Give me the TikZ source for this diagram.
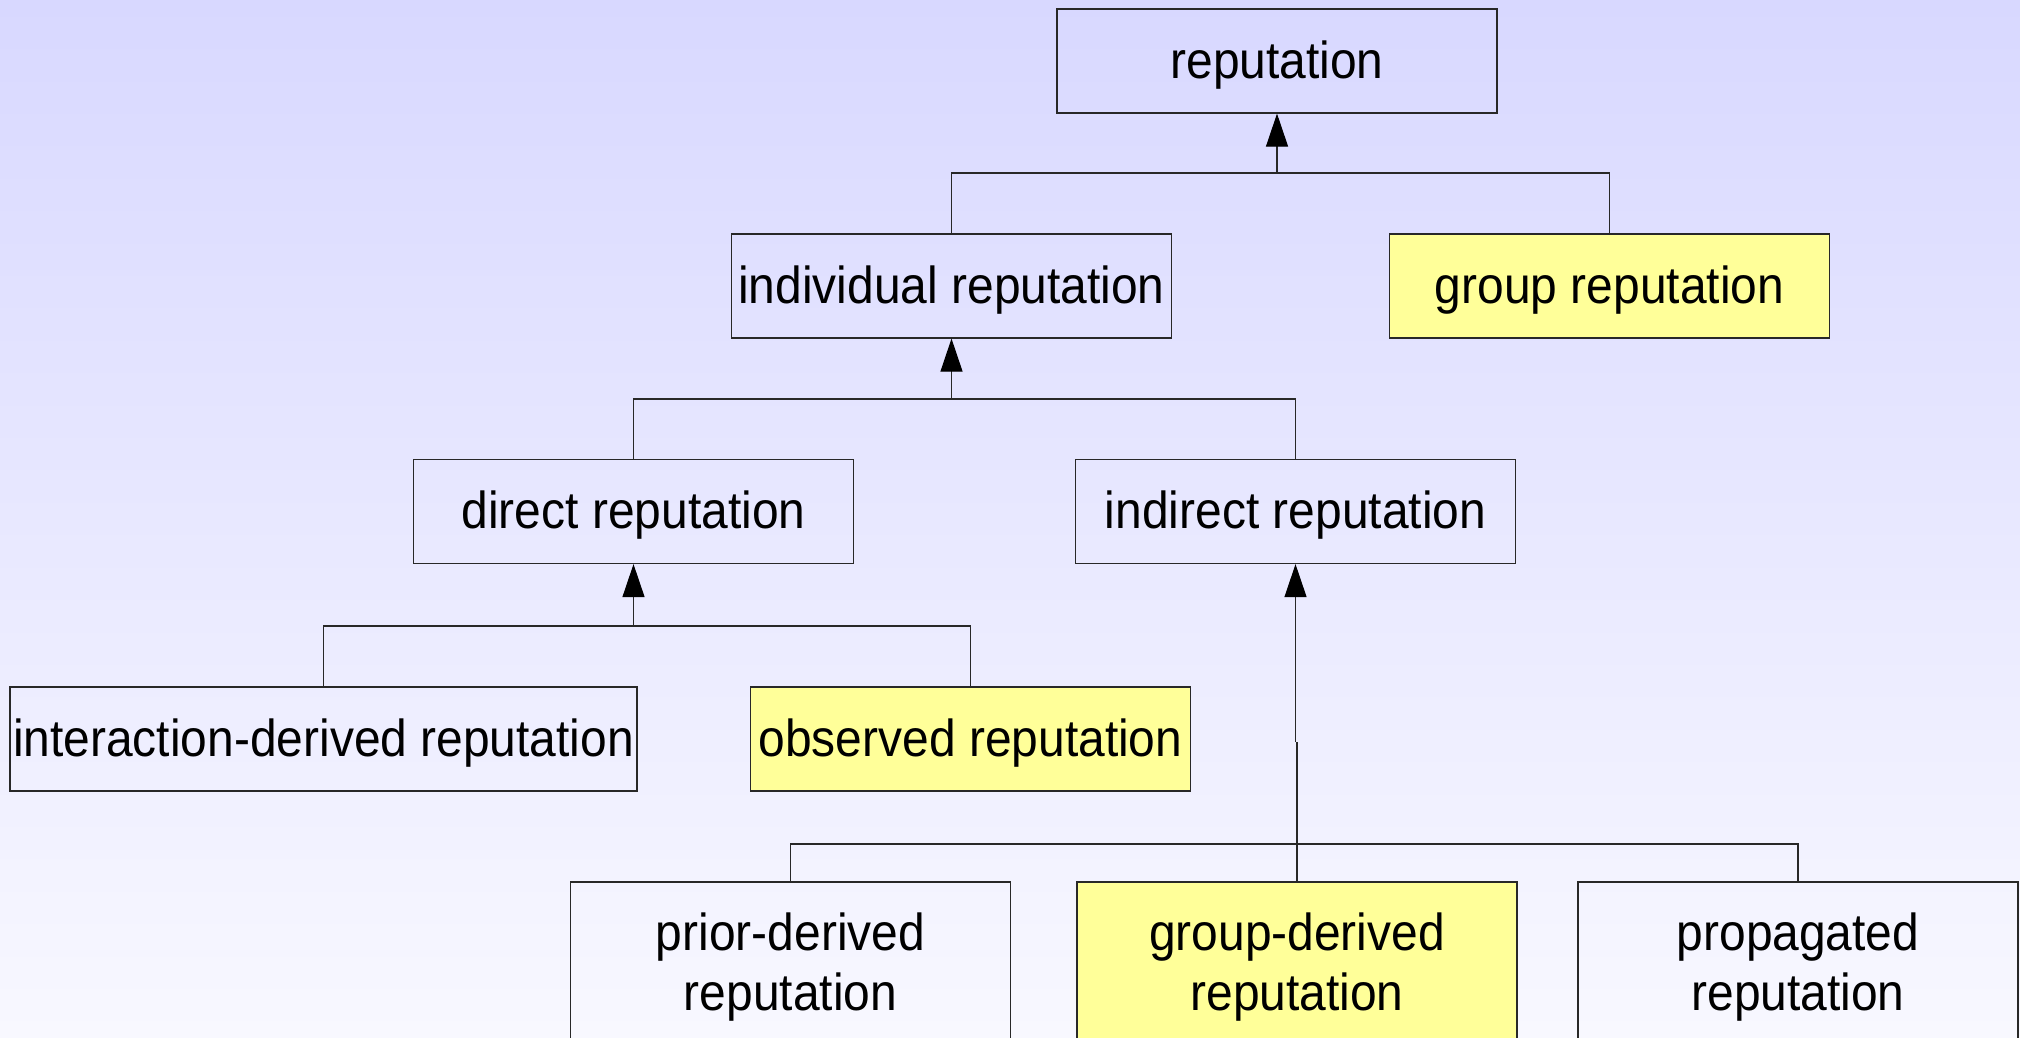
\documentclass[tikz,border=0pt]{standalone}
\usepackage{fontspec}
\setmainfont{Liberation Sans}[FakeStretch=0.922]
\usetikzlibrary{arrows.meta}
\definecolor{bgtop}{RGB}{216,216,255}
\definecolor{bgbot}{RGB}{248,248,255}
\definecolor{hilite}{RGB}{255,255,153}
\definecolor{edge}{RGB}{40,40,40}
\begin{document}
\begin{tikzpicture}[x=1pt,y=-1pt,
  base/.style={draw=edge,line width=1.2pt,rectangle,minimum width=440pt,minimum height=104pt,
    inner sep=0pt,align=center,font=\fontsize{52}{60}\selectfont},
  box/.style={base,text height=45pt,text depth=11pt},
  wide/.style={box,minimum width=627pt},
  tall/.style={base,minimum height=170pt},
  hl/.style={fill=hilite},
  conn/.style={draw=edge,line width=1.1pt},
  up/.style={conn,-{Triangle[length=33pt,width=22pt,color=black,fill=black]}}]
  % page and background shading
  \useasboundingbox (0,0) rectangle (2020,1037);
  \shade[top color=bgtop,bottom color=bgbot] (0,0) rectangle (2020,1037);
  \clip (0,0) rectangle (2020,1037);

  % boxes
  \node[box] (rep) at (1277,61) {reputation};
  \node[box] (indiv) at (951.5,286) {individual reputation};
  \node[box,hl] (group) at (1609.5,286) {group reputation};
  \node[box] (direct) at (633.5,511.5) {direct reputation};
  \node[box] (indirect) at (1295.5,511.5) {indirect reputation};
  \node[wide] (inter) at (323.5,739) {interaction-derived reputation};
  \node[box,hl] (obs) at (970.5,739) {observed reputation};
  \node[tall] (prior) at (790.5,967) {prior-derived\\reputation};
  \node[tall,hl] (gder) at (1297,967) {group-derived\\reputation};
  \node[tall] (prop) at (1798,967) {propagated\\reputation};

  % junction points on the horizontal bars
  \coordinate (j1) at (1277,173);
  \coordinate (j2) at (951.5,399);
  \coordinate (j3) at (633.5,626);
  \coordinate (j4) at (1297,844);
  \coordinate (kink) at (1297,742);

  % reputation <- individual / group
  \draw[conn] (indiv.north) |- (j1) -| (group.north);
  \draw[up] (j1) -- (rep.south);
  % individual <- direct / indirect
  \draw[conn] (direct.north) |- (j2) -| (indirect.north);
  \draw[up] (j2) -- (indiv.south);
  % direct <- interaction-derived / observed
  \draw[conn] (inter.north) |- (j3) -| (obs.north);
  \draw[up] (j3) -- (direct.south);
  % indirect <- prior-derived / group-derived / propagated
  \draw[conn] (prior.north) |- (j4) -| (prop.north);
  \draw[conn] (gder.north) -- (kink);
  \draw[up] (kink -| indirect.south) -- (indirect.south);
\end{tikzpicture}
\end{document}
